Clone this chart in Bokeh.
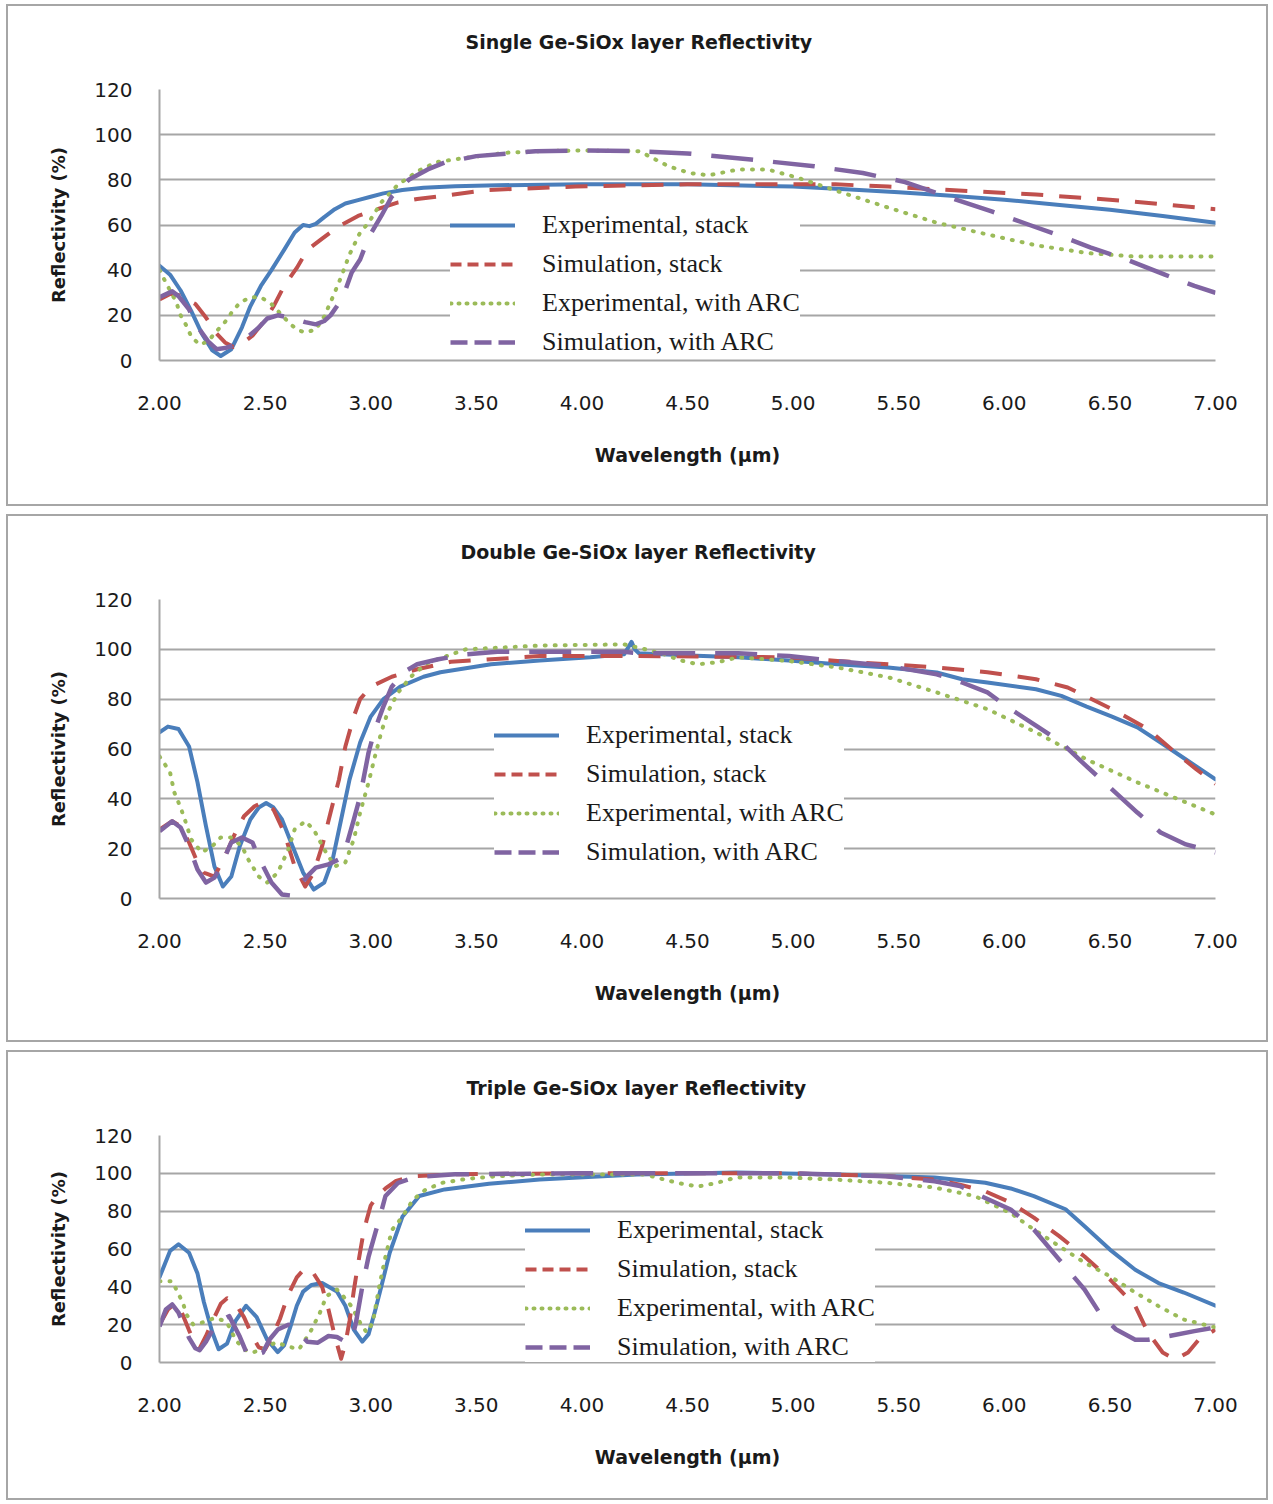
from bokeh.plotting import figure
from bokeh.models import (Range1d, FixedTicker, NumeralTickFormatter, Legend, LegendItem,
                          Title, Spacer)
from bokeh.layouts import column, row
from bokeh.embed import file_html
from bokeh.resources import INLINE

# ---------------- data ----------------
wavelength_ticks = [2.0, 2.5, 3.0, 3.5, 4.0, 4.5, 5.0, 5.5, 6.0, 6.5, 7.0]
reflectivity_ticks = [0, 20, 40, 60, 80, 100, 120]
series_labels = ["Experimental, stack", "Simulation, stack",
                 "Experimental, with ARC", "Simulation, with ARC"]
panel_titles = ["Single Ge-SiOx layer Reflectivity",
                "Double Ge-SiOx layer Reflectivity",
                "Triple Ge-SiOx layer Reflectivity"]

# Single layer
single_exp_stack_x = [2.00, 2.05, 2.10, 2.15, 2.20, 2.25, 2.29, 2.34, 2.39, 2.43, 2.48, 2.53, 2.59, 2.64, 2.68, 2.71, 2.74, 2.78, 2.83, 2.88, 2.94, 3.00, 3.06, 3.15, 3.25, 3.40, 3.60, 4.00, 4.50, 5.00, 5.25, 5.50, 5.75, 6.00, 6.25, 6.50, 6.75, 7.00]
single_exp_stack_y = [42, 38, 31, 22, 12, 4.5, 2, 5, 14.6, 24, 33, 40, 49, 56.7, 60, 59.5, 60.5, 63.5, 67, 69.5, 71, 72.5, 74, 75.5, 76.5, 77.2, 77.6, 78, 78, 77, 75.8, 74.5, 73, 71.2, 69, 66.8, 64, 61]
single_sim_stack_x = [2.00, 2.05, 2.09, 2.13, 2.17, 2.22, 2.27, 2.31, 2.35, 2.39, 2.44, 2.50, 2.54, 2.59, 2.65, 2.70, 2.77, 2.85, 2.94, 3.03, 3.13, 3.22, 3.35, 3.55, 3.97, 4.50, 5.00, 5.20, 5.45, 5.70, 6.15, 6.60, 7.00]
single_sim_stack_y = [27, 29.5, 29, 27, 25, 19, 12, 8, 6, 7.5, 11, 18, 24, 33, 41, 49, 54, 59.5, 64, 67, 70, 71.5, 73, 75.5, 77, 78, 78, 78, 77, 75.7, 73.5, 70.5, 67]
single_exp_arc_x = [2.00, 2.03, 2.08, 2.10, 2.13, 2.15, 2.19, 2.23, 2.27, 2.31, 2.34, 2.38, 2.43, 2.48, 2.53, 2.57, 2.61, 2.65, 2.69, 2.74, 2.78, 2.82, 2.86, 2.90, 2.95, 2.99, 3.05, 3.09, 3.13, 3.18, 3.22, 3.27, 3.32, 3.47, 3.64, 3.80, 4.00, 4.27, 4.32, 4.41, 4.51, 4.60, 4.74, 4.88, 5.02, 5.21, 5.45, 5.68, 5.92, 6.15, 6.39, 6.62, 7.00]
single_exp_arc_y = [40, 34.5, 25.7, 20, 15, 10.6, 7, 8.5, 13, 17, 21, 25.6, 28, 28, 25, 21, 17, 13.7, 12.4, 13.7, 19.5, 28, 37, 47, 56.7, 61, 70, 74, 78, 81, 83.7, 86, 88, 90, 92, 92.7, 93, 92.7, 90.4, 86, 83, 82, 84.6, 84.6, 81, 75, 67.7, 61, 55.8, 51, 47.6, 46, 46]
single_sim_arc_x = [2.00, 2.06, 2.09, 2.14, 2.18, 2.23, 2.27, 2.31, 2.36, 2.42, 2.47, 2.51, 2.56, 2.62, 2.69, 2.74, 2.78, 2.81, 2.84, 2.87, 2.91, 2.95, 2.99, 3.05, 3.10, 3.18, 3.27, 3.35, 3.50, 3.78, 4.00, 4.27, 4.50, 4.80, 5.10, 5.33, 5.53, 5.73, 5.94, 6.12, 6.27, 6.41, 6.58, 6.76, 6.90, 7.00]
single_sim_arc_y = [28, 30.6, 28.5, 22.6, 15, 8.5, 5, 5.5, 7, 10.6, 14.6, 18.6, 20, 19, 17, 16, 17.5, 20, 24, 28.5, 39, 44.7, 54.5, 64, 72.6, 80, 84.6, 87.7, 90.5, 92.7, 93, 92.7, 91.7, 89, 86, 83, 79, 72.5, 66, 60, 55, 50, 44.7, 38, 33, 30]

# Double layer
double_exp_stack_x = [2.00, 2.04, 2.09, 2.14, 2.18, 2.22, 2.26, 2.30, 2.34, 2.38, 2.43, 2.47, 2.505, 2.54, 2.58, 2.63, 2.68, 2.73, 2.78, 2.82, 2.86, 2.90, 2.95, 3.00, 3.06, 3.14, 3.25, 3.33, 3.57, 3.80, 4.04, 4.20, 4.235, 4.25, 4.27, 4.51, 4.74, 4.98, 5.21, 5.45, 5.68, 5.80, 5.92, 6.15, 6.27, 6.39, 6.51, 6.63, 6.74, 6.86, 7.00]
double_exp_stack_y = [66.7, 69, 68, 61, 46.6, 29, 12.9, 4.8, 8.8, 21, 31.7, 36.5, 38.3, 36.5, 31.7, 21, 10.4, 3.6, 6.4, 15.7, 31.7, 47.8, 62.6, 73, 80, 85, 89, 90.8, 94, 95.5, 96.8, 98, 103, 100, 98.4, 97.5, 96.8, 95.5, 94, 92.7, 90.7, 88, 86.7, 84, 81.3, 77, 73, 68.7, 62.6, 55.8, 47.8]
double_sim_stack_x = [2.00, 2.06, 2.10, 2.14, 2.18, 2.21, 2.26, 2.31, 2.36, 2.40, 2.45, 2.49, 2.54, 2.59, 2.64, 2.69, 2.73, 2.77, 2.81, 2.85, 2.88, 2.92, 2.95, 3.00, 3.10, 3.22, 3.38, 3.57, 3.80, 4.27, 4.98, 5.21, 5.45, 5.68, 5.92, 6.15, 6.30, 6.51, 6.68, 6.79, 6.91, 7.00]
double_sim_stack_y = [27.7, 31, 29, 22.5, 14.5, 10.4, 8.8, 17, 26.5, 33, 37, 38.6, 35.7, 26.5, 12.9, 4.8, 10.4, 21, 34.5, 47.8, 61, 73, 80, 85, 89, 92, 95, 96, 97.3, 97.3, 96.8, 95.3, 94, 92.7, 90.8, 88, 84.7, 76, 68, 60, 51.8, 46]
double_exp_arc_x = [2.00, 2.02, 2.05, 2.07, 2.10, 2.12, 2.15, 2.20, 2.25, 2.29, 2.34, 2.39, 2.42, 2.47, 2.51, 2.56, 2.61, 2.64, 2.69, 2.73, 2.78, 2.83, 2.88, 2.92, 2.95, 2.99, 3.02, 3.05, 3.08, 3.13, 3.19, 3.27, 3.35, 3.45, 3.57, 3.80, 4.20, 4.30, 4.39, 4.47, 4.55, 4.64, 4.74, 4.98, 5.21, 5.45, 5.68, 5.92, 6.15, 6.39, 6.63, 6.86, 7.00]
double_exp_arc_y = [57, 54.6, 50.6, 42.6, 36.5, 31.7, 23.7, 18.5, 21, 24.5, 24.5, 21, 15.7, 8.8, 6.4, 10.4, 19.7, 27.7, 31, 27.7, 19.7, 12.9, 14.5, 23.7, 34.5, 46.6, 57, 66.7, 74.7, 82.7, 89, 94.6, 97, 100, 100.5, 101.5, 102, 100, 98, 95.5, 94, 94.8, 96.8, 95.3, 92.7, 88.8, 82.7, 76, 66.7, 55.8, 46.6, 38.6, 33.7]
double_sim_arc_x = [2.00, 2.06, 2.10, 2.14, 2.18, 2.22, 2.26, 2.29, 2.34, 2.39, 2.44, 2.47, 2.53, 2.58, 2.62, 2.66, 2.70, 2.74, 2.80, 2.85, 2.88, 2.92, 2.95, 2.99, 3.02, 3.06, 3.10, 3.16, 3.22, 3.32, 3.45, 3.60, 4.20, 4.27, 4.74, 4.98, 5.21, 5.45, 5.68, 5.80, 5.92, 6.03, 6.15, 6.27, 6.39, 6.51, 6.63, 6.74, 6.86, 7.00]
double_sim_arc_y = [27, 31, 28.5, 21, 11.6, 6.4, 8.4, 12.9, 22.5, 24.5, 22.5, 16.5, 6.4, 1.6, 1.2, 4.8, 9, 12.4, 13.7, 15.7, 19.7, 31.7, 41, 58.6, 67.9, 77, 85, 91, 94, 96, 98, 99, 99, 98.4, 98.4, 97.3, 95.3, 93.3, 90, 86.7, 82.7, 76, 69.4, 62.6, 53, 43.8, 34.5, 26.5, 21.7, 18.5]

# Triple layer
triple_exp_stack_x = [2.00, 2.05, 2.09, 2.14, 2.18, 2.21, 2.25, 2.28, 2.32, 2.36, 2.41, 2.46, 2.51, 2.56, 2.59, 2.62, 2.65, 2.68, 2.72, 2.77, 2.84, 2.88, 2.92, 2.96, 2.99, 3.02, 3.05, 3.09, 3.15, 3.23, 3.35, 3.56, 3.80, 4.26, 4.73, 5.20, 5.67, 5.91, 6.03, 6.14, 6.29, 6.38, 6.50, 6.62, 6.73, 6.85, 7.00]
triple_exp_stack_y = [45, 59, 62.5, 58, 47, 32, 16, 7, 10, 22, 30, 24, 12, 5.5, 9, 19, 30, 37.5, 41, 42, 37.5, 30, 17.4, 11, 15, 27, 40, 58, 77, 88, 91.5, 94.5, 96.7, 99.4, 100.4, 99.4, 97.8, 95, 92, 88, 81, 72, 59.7, 49, 42, 37, 30]
triple_sim_stack_x = [2.00, 2.04, 2.07, 2.10, 2.14, 2.17, 2.19, 2.22, 2.26, 2.29, 2.32, 2.36, 2.40, 2.44, 2.47, 2.50, 2.53, 2.57, 2.61, 2.65, 2.69, 2.73, 2.77, 2.80, 2.83, 2.86, 2.88, 2.90, 2.92, 2.94, 2.96, 2.98, 3.00, 3.03, 3.07, 3.12, 3.20, 3.40, 4.00, 5.00, 5.44, 5.67, 5.79, 5.91, 6.03, 6.14, 6.26, 6.38, 6.50, 6.62, 6.68, 6.75, 6.81, 6.87, 6.92, 7.00]
triple_sim_stack_y = [20, 28, 31, 28, 17, 9.5, 7.5, 14, 24, 31, 34, 31, 24, 14, 8, 7, 13, 23, 36, 45, 50, 47, 40, 28, 14, 2, 10, 22, 38, 52, 65, 75, 83, 88, 92, 96, 98.5, 99.5, 100, 100, 98.5, 96.7, 94, 90.5, 84.5, 76.6, 66.8, 56, 44, 29.8, 15.9, 5.3, 1.6, 5.3, 12, 17.4]
triple_exp_arc_x = [2.00, 2.06, 2.11, 2.13, 2.16, 2.20, 2.26, 2.31, 2.33, 2.36, 2.40, 2.44, 2.49, 2.55, 2.61, 2.66, 2.69, 2.72, 2.76, 2.79, 2.84, 2.87, 2.91, 2.95, 2.98, 3.01, 3.04, 3.07, 3.10, 3.15, 3.20, 3.26, 3.34, 3.45, 3.60, 3.80, 4.30, 4.38, 4.45, 4.55, 4.64, 4.73, 4.97, 5.20, 5.44, 5.67, 5.86, 6.03, 6.14, 6.26, 6.38, 6.50, 6.62, 6.73, 6.85, 7.00]
triple_exp_arc_y = [43, 43, 31.7, 25, 20, 21, 23.5, 22, 19, 12, 6.9, 5.3, 6.9, 10.6, 8.5, 6.9, 12, 17.4, 26.4, 35, 38.6, 35, 29.6, 21, 16, 21, 40, 56, 70, 77, 86, 91.4, 95, 97, 98.5, 99.4, 99.4, 97, 95, 93, 95, 97.8, 97.8, 96.7, 95, 92.5, 88, 79, 70.3, 61.5, 52.8, 45.6, 37, 29.8, 22.7, 18.5]
triple_sim_arc_x = [2.00, 2.03, 2.06, 2.09, 2.14, 2.17, 2.19, 2.22, 2.25, 2.29, 2.33, 2.38, 2.42, 2.45, 2.49, 2.52, 2.56, 2.61, 2.65, 2.70, 2.75, 2.80, 2.84, 2.88, 2.91, 2.93, 2.96, 2.99, 3.04, 3.07, 3.13, 3.21, 3.40, 4.00, 5.00, 5.44, 5.67, 5.79, 5.91, 6.03, 6.14, 6.26, 6.38, 6.45, 6.53, 6.62, 6.68, 6.78, 6.90, 7.00]
triple_sim_arc_y = [19, 28, 30.7, 26.4, 13, 7.5, 6.5, 11, 17, 22, 24.5, 13.7, 3, 4, 5.3, 12, 17.4, 20, 17, 11, 10.5, 14, 13.5, 11, 12, 21, 40, 56, 75.6, 88, 95, 98, 99.5, 100, 100, 98.5, 95.8, 93.3, 87, 80.9, 70.3, 54.4, 38.6, 26.4, 17.4, 12, 12, 14, 16.6, 18.5]

# ---------------- styles ----------------
COLORS = ["#4a7ebb", "#c0504d", "#9bbb59", "#8064a2"]
WIDTHS = [4, 4, 4, 4.5]
PLOT_DASH = ["solid", "22 16", "1 9", "42 20"]
LEGEND_DASH = ["solid", "11 6", "1 7", "17 7"]
CAPS = ["round", "butt", "round", "butt"]
GRID = "#a6a6a6"
SANS = "DejaVu Sans"
W = 1258
NAN = float("nan")


def make_title(text, offset):
    kw = dict(text=text, align="left", offset=offset, standoff=0,
              text_font=SANS, text_font_size="19px", text_font_style="bold",
              text_color="#1a1a1a")
    try:
        return Title(padding=dict(left=0, right=0, top=0, bottom=37), **kw)
    except Exception:
        kw["standoff"] = 60
        return Title(**kw)


def make_panel(title, series, height, b_top, b_bottom, b_left, b_right, legend_xy, title_offset):
    p = figure(width=W, height=height, output_backend="svg", toolbar_location=None,
               x_range=Range1d(2, 7), y_range=Range1d(0, 120),
               min_border_top=b_top, min_border_bottom=b_bottom,
               min_border_left=b_left, min_border_right=b_right,
               styles={"outline": "2px solid #a6a6a6", "outline-offset": "0px"})
    p.title = make_title(title, title_offset)
    p.outline_line_color = None
    p.background_fill_color = "white"
    p.border_fill_color = "white"

    p.xgrid.grid_line_color = None
    p.ygrid.ticker = FixedTicker(ticks=reflectivity_ticks)
    p.ygrid.grid_line_color = GRID
    p.ygrid.grid_line_width = 2

    xa = p.xaxis[0]
    xa.ticker = FixedTicker(ticks=wavelength_ticks)
    xa.formatter = NumeralTickFormatter(format="0.00")
    ya = p.yaxis[0]
    ya.ticker = FixedTicker(ticks=reflectivity_ticks)
    for ax in (xa, ya):
        ax.major_tick_line_color = None
        ax.minor_tick_line_color = None
        ax.axis_line_color = GRID
        ax.axis_line_width = 2
        ax.major_label_text_font = SANS
        ax.major_label_text_font_size = "20px"
        ax.major_label_text_color = "#1a1a1a"
        ax.axis_label_text_font = SANS
        ax.axis_label_text_font_style = "bold"
        ax.axis_label_text_color = "#1a1a1a"
    xa.axis_label = "Wavelength (\u03bcm)"
    xa.axis_label_text_font_size = "19px"
    xa.major_label_standoff = 29
    xa.axis_label_standoff = 31
    ya.axis_label = "Reflectivity (%)"
    ya.axis_label_text_font_size = "18px"
    ya.major_label_standoff = 21
    ya.axis_label_standoff = 22

    items = []
    for i, (xs, ys) in enumerate(series):
        p.line(xs, ys, line_color=COLORS[i], line_width=WIDTHS[i],
               line_dash=PLOT_DASH[i], line_cap=CAPS[i], line_join="round")
        # legend-only glyph sample (draws nothing in the plot area)
        proxy = p.line([NAN], [NAN], line_color=COLORS[i], line_width=WIDTHS[i],
                       line_dash=LEGEND_DASH[i], line_cap=CAPS[i])
        items.append(LegendItem(label=series_labels[i], renderers=[proxy]))

    legend = Legend(items=items, location=legend_xy, padding=4, margin=0, spacing=9,
                    glyph_width=65, glyph_height=30, label_height=30, label_standoff=27,
                    label_text_font="Liberation Serif", label_text_font_size="26px",
                    label_text_color="#1a1a1a", background_fill_color="white",
                    background_fill_alpha=1.0, border_line_color=None)
    p.add_layout(legend)
    return p


p1 = make_panel(panel_titles[0],
                [(single_exp_stack_x, single_exp_stack_y), (single_sim_stack_x, single_sim_stack_y),
                 (single_exp_arc_x, single_exp_arc_y), (single_sim_arc_x, single_sim_arc_y)],
                498, 83, 144, 149, 51, (291, 3), 306)
p2 = make_panel(panel_titles[1],
                [(double_exp_stack_x, double_exp_stack_y), (double_sim_stack_x, double_sim_stack_y),
                 (double_exp_arc_x, double_exp_arc_y), (double_sim_arc_x, double_sim_arc_y)],
                524, 83, 142, 149, 51, (335, 31), 301)
p3 = make_panel(panel_titles[2],
                [(triple_exp_stack_x, triple_exp_stack_y), (triple_sim_stack_x, triple_sim_stack_y),
                 (triple_exp_arc_x, triple_exp_arc_y), (triple_sim_arc_x, triple_sim_arc_y)],
                446, 83, 136, 151, 49, (366, 0), 307)

layout = row(Spacer(width=8, height=10),
             column(Spacer(width=10, height=6), p1, Spacer(width=10, height=12),
                    p2, Spacer(width=10, height=12), p3))
open("out.html", "w").write(file_html(layout, INLINE))
